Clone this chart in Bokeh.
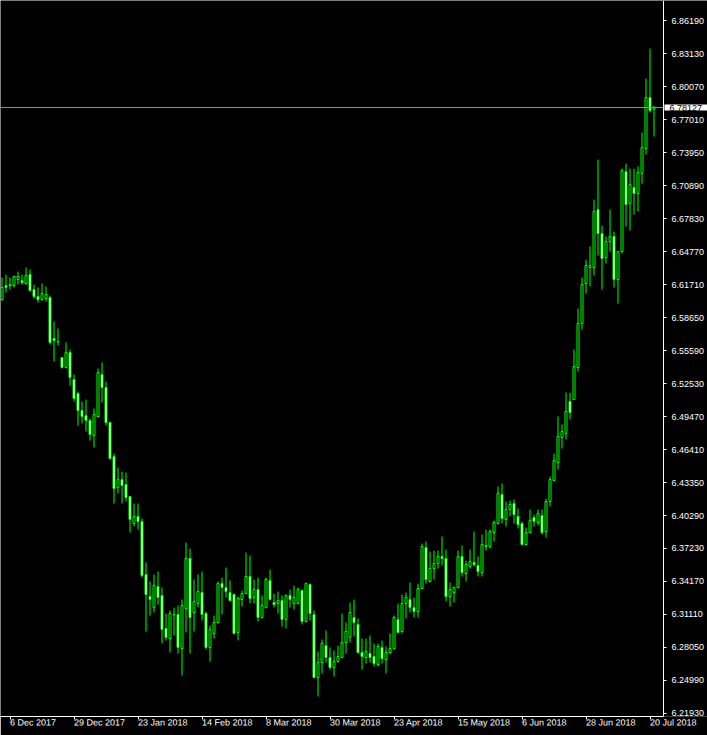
from bokeh.plotting import figure
from bokeh.models import (Range1d, FixedTicker, Label, ColumnDataSource,
                          PrintfTickFormatter)
from bokeh.embed import file_html
from bokeh.resources import INLINE

# Daily bars, 4 Dec 2017 (bar 0) .. 23 Jul 2018 (bar 163)
opens = [6.6031, 6.6161, 6.6161, 6.6161, 6.6217, 6.6208, 6.6180, 6.6263, 6.6124, 6.6059,
         6.6031, 6.6041, 6.6050, 6.5670, 6.5642, 6.5494, 6.5401, 6.5540, 6.5290, 6.5160,
         6.5002, 6.4956, 6.4910, 6.4771, 6.4947, 6.5336, 6.5216, 6.4891, 6.4575, 6.4288,
         6.4362, 6.4316, 6.4205, 6.3955, 6.4020, 6.3973, 6.3481, 6.3277, 6.3175, 6.3370,
         6.3287, 6.2981, 6.2888, 6.3111, 6.3111, 6.2795, 6.3166, 6.3630, 6.3129, 6.3213,
         6.3314, 6.3120, 6.2805, 6.2935, 6.3037, 6.3398, 6.3361, 6.3314, 6.3296, 6.2944,
         6.3250, 6.3305, 6.3463, 6.3268, 6.3342, 6.3083, 6.3175, 6.3426, 6.3222, 6.3213,
         6.3240, 6.3064, 6.3287, 6.3213, 6.3213, 6.3333, 6.3046, 6.3389, 6.3111, 6.2526,
         6.2665, 6.2823, 6.2712, 6.2619, 6.2675, 6.2712, 6.2851, 6.2898, 6.3083, 6.3018,
         6.2758, 6.2712, 6.2749, 6.2721, 6.2647, 6.2805, 6.2693, 6.2758, 6.2795, 6.3064,
         6.2953, 6.3213, 6.3250, 6.3175, 6.3138, 6.3352, 6.3732, 6.3417, 6.3537, 6.3583,
         6.3648, 6.3630, 6.3277, 6.3314, 6.3361, 6.3648, 6.3491, 6.3556, 6.3593, 6.3565,
         6.3500, 6.3741, 6.3741, 6.3871, 6.3955, 6.4223, 6.3992, 6.4084, 6.4140, 6.4020,
         6.3955, 6.3760, 6.3871, 6.4010, 6.3964, 6.4029, 6.3880, 6.4159, 6.4353, 6.4520,
         6.4752, 6.4789, 6.5086, 6.5104, 6.5401, 6.5809, 6.6180, 6.6328, 6.6328, 6.6866,
         6.6643, 6.6421, 6.6569, 6.6616, 6.6217, 6.6477, 6.7218, 6.6922, 6.7070, 6.7015,
         6.7200, 6.7432, 6.7905, 6.7798]
highs = [6.6236, 6.6263, 6.6236, 6.6254, 6.6291, 6.6263, 6.6328, 6.6310, 6.6170, 6.6143,
         6.6180, 6.6152, 6.6068, 6.5827, 6.5762, 6.5494, 6.5633, 6.5568, 6.5336, 6.5179,
         6.5086, 6.5104, 6.4928, 6.5021, 6.5392, 6.5447, 6.5271, 6.4900, 6.4603, 6.4473,
         6.4436, 6.4427, 6.4205, 6.4140, 6.4140, 6.4001, 6.3593, 6.3417, 6.3481, 6.3509,
         6.3361, 6.3120, 6.3148, 6.3175, 6.3194, 6.3250, 6.3778, 6.3722, 6.3435, 6.3481,
         6.3509, 6.3138, 6.3009, 6.3101, 6.3417, 6.3454, 6.3546, 6.3426, 6.3305, 6.3277,
         6.3333, 6.3685, 6.3658, 6.3435, 6.3454, 6.3287, 6.3454, 6.3528, 6.3305, 6.3324,
         6.3287, 6.3296, 6.3342, 6.3380, 6.3361, 6.3342, 6.3407, 6.3398, 6.3148, 6.2768,
         6.2879, 6.2962, 6.2805, 6.2777, 6.2823, 6.3120, 6.3037, 6.3222, 6.3250, 6.3074,
         6.2888, 6.2888, 6.2916, 6.2842, 6.2842, 6.2870, 6.2814, 6.2935, 6.3101, 6.3213,
         6.3296, 6.3314, 6.3407, 6.3268, 6.3398, 6.3769, 6.3787, 6.3695, 6.3704, 6.3704,
         6.3834, 6.3713, 6.3407, 6.3370, 6.3704, 6.3750, 6.3611, 6.3713, 6.3880, 6.3648,
         6.3852, 6.3899, 6.3899, 6.3982, 6.4298, 6.4325, 6.4159, 6.4168, 6.4177, 6.4094,
         6.3973, 6.3917, 6.4084, 6.4038, 6.4084, 6.4084, 6.4186, 6.4390, 6.4603, 6.4947,
         6.4873, 6.5169, 6.5169, 6.5568, 6.5948, 6.6236, 6.6402, 6.6523, 6.6959, 6.7330,
         6.6718, 6.6616, 6.6866, 6.6662, 6.6480, 6.7246, 6.7293, 6.7246, 6.7246, 6.7265,
         6.7580, 6.8081, 6.8359, 6.7830]
lows = [6.6022, 6.6096, 6.6124, 6.6143, 6.6170, 6.6170, 6.6170, 6.6105, 6.6041, 6.6003,
        6.6022, 6.6013, 6.5615, 6.5457, 6.5605, 6.5392, 6.5392, 6.5234, 6.5086, 6.4863,
        6.4882, 6.4808, 6.4724, 6.4659, 6.4938, 6.5077, 6.4863, 6.4548, 6.4140, 6.4233,
        6.4140, 6.4159, 6.3871, 6.3927, 6.3899, 6.3454, 6.2953, 6.3101, 6.3129, 6.3203,
        6.2842, 6.2870, 6.2758, 6.2916, 6.2749, 6.2545, 6.2944, 6.2749, 6.2953, 6.3175,
        6.3055, 6.2786, 6.2675, 6.2888, 6.3027, 6.3111, 6.3268, 6.3231, 6.2925, 6.2870,
        6.3185, 6.3300, 6.3213, 6.3213, 6.3046, 6.3074, 6.3166, 6.3240, 6.3175, 6.3120,
        6.2999, 6.2981, 6.3175, 6.3157, 6.3205, 6.3018, 6.3037, 6.3055, 6.2520, 6.2350,
        6.2563, 6.2665, 6.2600, 6.2535, 6.2665, 6.2705, 6.2749, 6.2851, 6.2907, 6.2749,
        6.2600, 6.2656, 6.2665, 6.2628, 6.2628, 6.2656, 6.2563, 6.2740, 6.2786, 6.2935,
        6.2935, 6.3074, 6.3129, 6.3083, 6.3083, 6.3345, 6.3398, 6.3407, 6.3435, 6.3537,
        6.3565, 6.3231, 6.3185, 6.3222, 6.3352, 6.3463, 6.3417, 6.3537, 6.3556, 6.3463,
        6.3463, 6.3704, 6.3722, 6.3787, 6.3945, 6.3955, 6.3927, 6.4020, 6.3955, 6.3908,
        6.3750, 6.3752, 6.3865, 6.3927, 6.3936, 6.3852, 6.3825, 6.4112, 6.4350, 6.4455,
        6.4650, 6.4733, 6.4919, 6.5100, 6.5364, 6.5753, 6.6087, 6.6152, 6.6254, 6.6440,
        6.6124, 6.6365, 6.6477, 6.6143, 6.5994, 6.6458, 6.6708, 6.6672, 6.6820, 6.6848,
        6.7107, 6.7376, 6.7765, 6.7543]
closes = [6.6143, 6.6143, 6.6170, 6.6245, 6.6245, 6.6189, 6.6254, 6.6115, 6.6059, 6.6031,
          6.6087, 6.6078, 6.5633, 6.5651, 6.5640, 6.5401, 6.5540, 6.5309, 6.5114, 6.5002,
          6.4947, 6.4910, 6.4780, 6.4965, 6.5355, 6.5216, 6.4891, 6.4557, 6.4279, 6.4362,
          6.4307, 6.4196, 6.3992, 6.4020, 6.3973, 6.3472, 6.3296, 6.3250, 6.3380, 6.3268,
          6.2972, 6.2898, 6.3120, 6.3108, 6.2805, 6.3194, 6.3630, 6.3083, 6.3231, 6.3324,
          6.3111, 6.2805, 6.2972, 6.3037, 6.3398, 6.3361, 6.3324, 6.3240, 6.2935, 6.3259,
          6.3305, 6.3463, 6.3259, 6.3342, 6.3083, 6.3194, 6.3435, 6.3250, 6.3203, 6.3240,
          6.3064, 6.3287, 6.3250, 6.3268, 6.3342, 6.3046, 6.3398, 6.3120, 6.2526, 6.2665,
          6.2842, 6.2712, 6.2619, 6.2675, 6.2721, 6.2851, 6.2953, 6.3129, 6.3037, 6.2758,
          6.2721, 6.2768, 6.2712, 6.2656, 6.2814, 6.2702, 6.2758, 6.2795, 6.3083, 6.2944,
          6.3213, 6.3268, 6.3175, 6.3138, 6.3352, 6.3741, 6.3435, 6.3537, 6.3583, 6.3648,
          6.3630, 6.3277, 6.3342, 6.3361, 6.3648, 6.3500, 6.3574, 6.3602, 6.3574, 6.3509,
          6.3760, 6.3750, 6.3880, 6.3964, 6.4233, 6.4001, 6.4084, 6.4131, 6.4038, 6.3945,
          6.3760, 6.3871, 6.3982, 6.3973, 6.4047, 6.3871, 6.4159, 6.4362, 6.4538, 6.4761,
          6.4808, 6.4993, 6.4984, 6.5410, 6.5809, 6.6170, 6.6347, 6.6347, 6.6848, 6.6643,
          6.6412, 6.6569, 6.6616, 6.6217, 6.6477, 6.7228, 6.6913, 6.7098, 6.7015, 6.7209,
          6.7441, 6.7905, 6.7784, 6.78127]

date_tick_bars = [2, 18, 34, 50, 66, 82, 98, 114, 130, 146, 162]
date_tick_labels = ["6 Dec 2017", "29 Dec 2017", "23 Jan 2018", "14 Feb 2018", "8 Mar 2018",
                    "30 Mar 2018", "23 Apr 2018", "15 May 2018", "6 Jun 2018", "28 Jun 2018",
                    "20 Jul 2018"]
price_ticks = [6.21930, 6.24990, 6.28050, 6.31110, 6.34170, 6.37230, 6.40290, 6.43350,
               6.46410, 6.49470, 6.52530, 6.55590, 6.58650, 6.61710, 6.64770, 6.67830,
               6.70890, 6.73950, 6.77010, 6.80070, 6.83130, 6.86190]
bid_price = 6.78127

bars = list(range(len(opens)))
src = ColumnDataSource(dict(
    x=bars,
    high=highs,
    low=lows,
    top=[max(o, c) for o, c in zip(opens, closes)],
    bottom=[min(o, c) for o, c in zip(opens, closes)],
    fill=["black" if c >= o else "white" for o, c in zip(opens, closes)],
))

LIME = "#00ff00"
FONT = "Liberation Sans"
FSIZE = "9px"
X_START = -0.375
X_EDGE = 165.375          # right edge of the price area (where the price scale sits)
X_END = X_START + 707 / 4  # whole canvas width, 4 px per bar

p = figure(width=707, height=735, output_backend="svg", toolbar_location=None,
           x_range=Range1d(X_START, X_END), y_range=Range1d(6.2165, 6.8805),
           y_axis_location="right", min_border_left=0, min_border_top=0,
           min_border_right=0, min_border_bottom=19,
           background_fill_color="black", border_fill_color="black")
p.outline_line_color = None
p.xgrid.visible = False
p.ygrid.visible = False

p.segment(x0="x", y0="low", x1="x", y1="high", source=src, line_color=LIME, line_width=1)
p.vbar(x="x", width=0.5, top="top", bottom="bottom", source=src,
       fill_color="fill", line_color=LIME, line_width=1)

# bid line across the price area
p.segment(x0=[X_START], x1=[X_EDGE], y0=[bid_price], y1=[bid_price],
          line_color="#8a9099", line_width=1)

xa = p.xaxis[0]
xa.ticker = FixedTicker(ticks=date_tick_bars)
xa.major_label_overrides = {b: t for b, t in zip(date_tick_bars, date_tick_labels)}
xa.major_label_orientation = -0.0005   # tiny tilt -> labels start at their tick
xa.major_label_standoff = 3
xa.bounds = (X_START, X_EDGE)

ya = p.yaxis[0]
ya.ticker = FixedTicker(ticks=price_ticks)
ya.formatter = PrintfTickFormatter(format="%.5f")
ya.major_label_standoff = 5
ya.fixed_location = X_EDGE

for ax in (xa, ya):
    ax.axis_line_color = "white"
    ax.major_tick_line_color = "white"
    ax.major_tick_in = 0
    ax.major_tick_out = 3
    ax.minor_tick_line_color = None
    ax.major_label_text_color = "white"
    ax.major_label_text_font = FONT
    ax.major_label_text_font_size = FSIZE

p.add_layout(Label(x=X_EDGE, y=bid_price, text=f"{bid_price:.5f}", x_offset=1,
                   text_align="left", text_baseline="middle", text_color="black",
                   text_font=FONT, text_font_size=FSIZE,
                   background_fill_color="white", background_fill_alpha=1.0,
                   padding=dict(left=5, right=6, top=0, bottom=0)))

open("out.html", "w").write(file_html(p, INLINE))
